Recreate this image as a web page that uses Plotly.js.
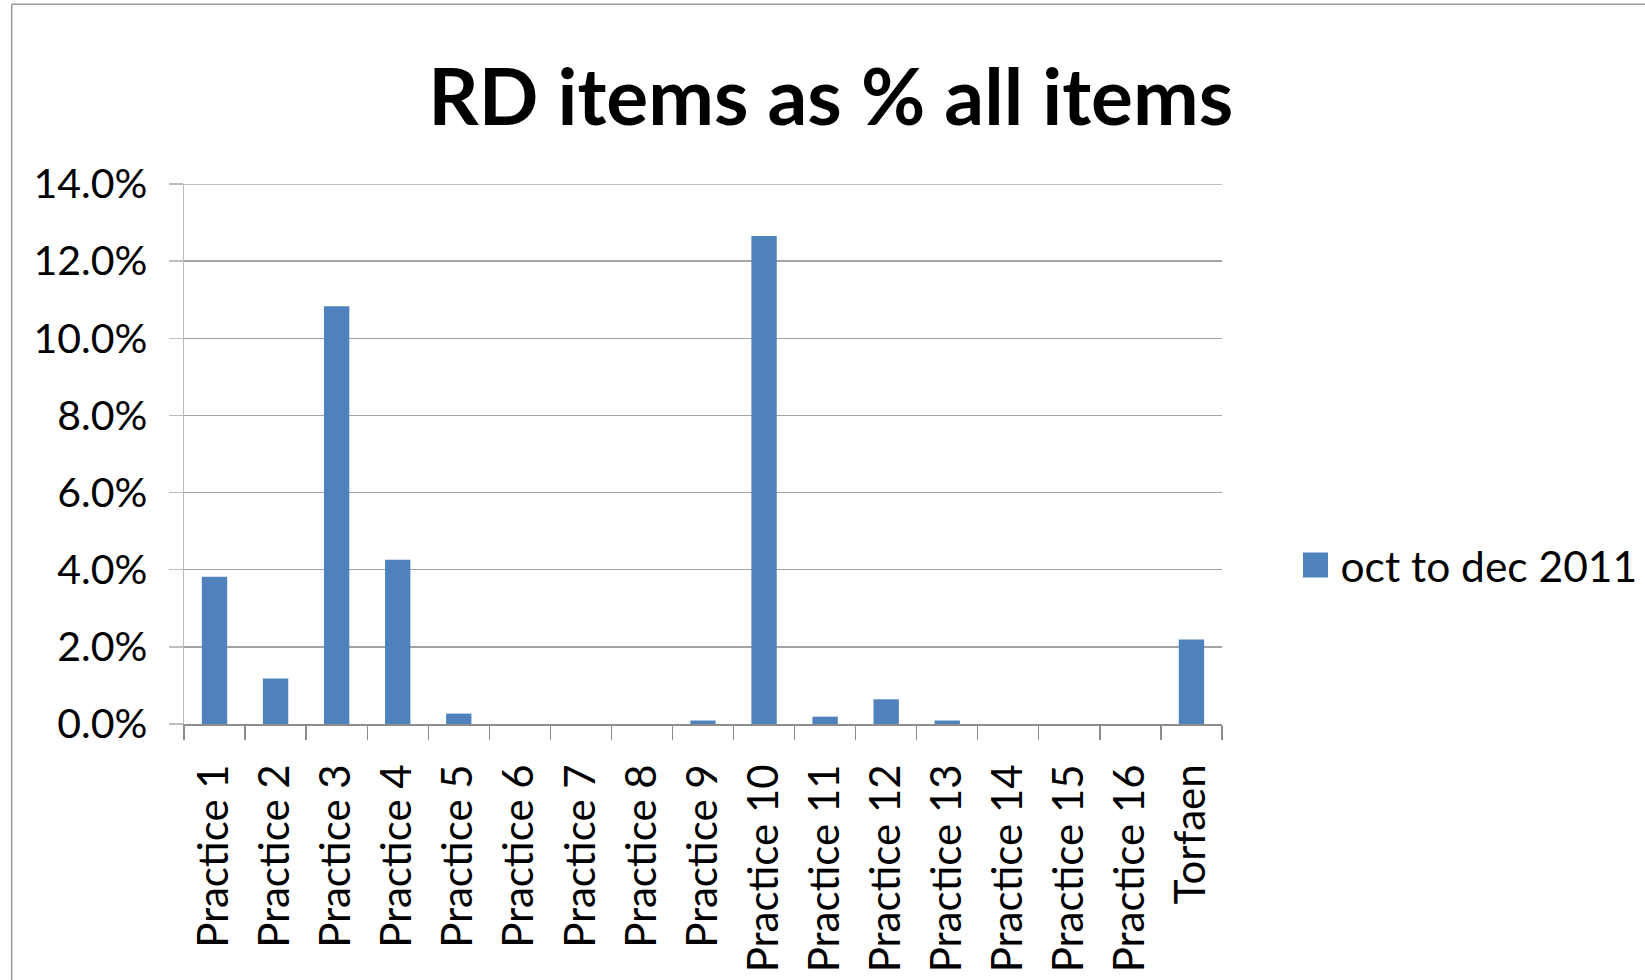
<!DOCTYPE html>
<html>
<head>
<meta charset="utf-8">
<script src="https://cdn.plot.ly/plotly-3.0.1.min.js"></script>
<style>
  html, body { margin: 0; padding: 0; background: #ffffff; }
  #chart { width: 1645px; height: 980px; }
</style>
</head>
<body>
<div id="chart"></div>
<script>
// ---- data ----
const categories = [
  "Practice 1", "Practice 2", "Practice 3", "Practice 4", "Practice 5",
  "Practice 6", "Practice 7", "Practice 8", "Practice 9", "Practice 10",
  "Practice 11", "Practice 12", "Practice 13", "Practice 14", "Practice 15",
  "Practice 16", "Torfaen"
];
const seriesName = "oct to dec 2011";
const rdShare = [
  0.0382, 0.0118, 0.1083, 0.0426, 0.0027,
  0.0, 0.0, 0.0, 0.0009, 0.1265,
  0.0019, 0.0064, 0.0009, 0.0, 0.0,
  0.0, 0.0219
];
const chartTitle = "RD items as % all items";
const yTickValues = [0, 0.02, 0.04, 0.06, 0.08, 0.10, 0.12, 0.14];
const yMax = 0.14;

const FONT = "Lato, 'Open Sans', sans-serif";

const trace = {
  type: "bar",
  x: categories,
  y: rdShare,
  name: seriesName,
  marker: { color: "#4F81BD", line: { width: 0 } },
  showlegend: true
};

const layout = {
  width: 1645,
  height: 980,
  margin: { l: 184, r: 423, t: 184, b: 256 },
  paper_bgcolor: "#ffffff",
  plot_bgcolor: "#ffffff",
  font: { family: FONT, color: "#000000", size: 40 },
  title: {
    text: chartTitle,
    font: { family: FONT, size: 78.5, color: "#000000", weight: 700 },
    xref: "container", x: 0.505, xanchor: "center",
    yref: "container", y: 0.9, yanchor: "middle"
  },
  bargap: 0.585,
  xaxis: {
    type: "category",
    tickson: "boundaries",
    ticks: "outside",
    ticklen: 14,
    tickwidth: 1.3,
    tickcolor: "#8c8c8c",
    showline: true,
    linecolor: "#8c8c8c",
    linewidth: 1.5,
    showgrid: false,
    tickangle: -90,
    ticklabelstandoff: 22,
    tickfont: { family: FONT, size: 42, color: "#000000" },
    automargin: false,
    fixedrange: true
  },
  yaxis: {
    range: [0, yMax],
    tickvals: yTickValues,
    tickformat: ".1%",
    ticks: "outside",
    ticklen: 14,
    tickwidth: 1.3,
    tickcolor: "#bdbdbd",
    showline: true,
    linecolor: "#bdbdbd",
    linewidth: 1.5,
    showgrid: true,
    gridcolor: "#a3a3a3",
    gridwidth: 1.3,
    zeroline: false,
    ticklabelstandoff: 13,
    tickfont: { family: FONT, size: 41, color: "#000000" },
    automargin: false,
    fixedrange: true
  },
  showlegend: true,
  legend: {
    xref: "container", x: 0.7845, xanchor: "left",
    yref: "container", y: 0.423, yanchor: "middle",
    itemwidth: 40,
    font: { family: FONT, size: 42.5, color: "#000000" },
    bgcolor: "rgba(0,0,0,0)",
    borderwidth: 0
  },
  shapes: [
    // top gridline at the axis maximum (Plotly hides grid lines on the plot edge)
    { type: "line", xref: "paper", yref: "y",
      x0: 0, x1: 1, y0: yMax, y1: yMax, layer: "below",
      line: { color: "#bdbdbd", width: 1.8 } },
    // chart-area frame (left and top edges visible in the reference)
    { type: "line", xref: "paper", yref: "paper",
      x0: -0.166, x1: -0.166, y0: 1.3327, y1: -0.6,
      line: { color: "#9a9a9a", width: 1.5 } },
    { type: "line", xref: "paper", yref: "paper",
      x0: -0.166, x1: 1.5, y0: 1.3327, y1: 1.3327,
      line: { color: "#9a9a9a", width: 1.5 } }
  ]
};

Plotly.newPlot("chart", [trace], layout, { displayModeBar: false, staticPlot: true })
  .then(function (gd) {
    // enlarge the legend swatch to match the reference's larger square
    gd.querySelectorAll(".legendpoints path").forEach(function (p) {
      p.setAttribute("d", "M12.5,12.5H-12.5V-12.5H12.5Z");
    });
  });
</script>
</body>
</html>
